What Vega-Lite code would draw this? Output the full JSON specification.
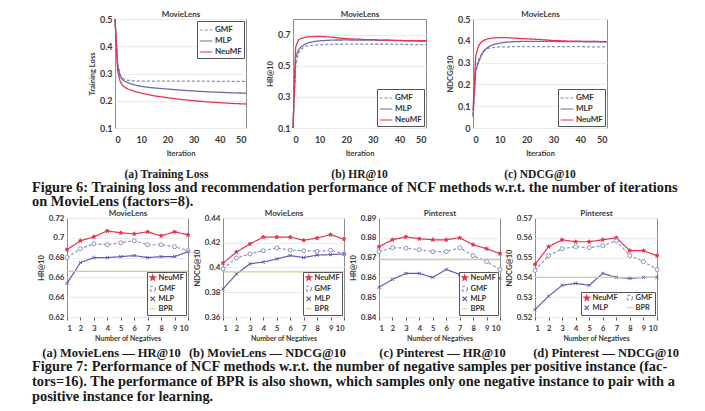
{
"$schema": "https://vega.github.io/schema/vega-lite/v6.json",
"background": "white",
"padding": {"left": 32, "top": 9, "right": 0, "bottom": 0},
"spacing": -2,
"resolve": {"scale": {"color": "independent", "shape": "independent", "strokeDash": "independent", "fill": "independent"}},
"datasets": {
"loss": [
{"it":0,"m":"GMF","v":0.5},{"it":1,"m":"GMF","v":0.34},{"it":2,"m":"GMF","v":0.295},{"it":3,"m":"GMF","v":0.282},{"it":4,"m":"GMF","v":0.277},{"it":5,"m":"GMF","v":0.275},{"it":6,"m":"GMF","v":0.274},{"it":8,"m":"GMF","v":0.273},{"it":10,"m":"GMF","v":0.272},{"it":15,"m":"GMF","v":0.272},{"it":20,"m":"GMF","v":0.272},{"it":25,"m":"GMF","v":0.272},{"it":30,"m":"GMF","v":0.272},{"it":35,"m":"GMF","v":0.272},{"it":40,"m":"GMF","v":0.271},{"it":45,"m":"GMF","v":0.271},{"it":50,"m":"GMF","v":0.271},
{"it":0,"m":"MLP","v":0.5},{"it":1,"m":"MLP","v":0.33},{"it":2,"m":"MLP","v":0.29},{"it":3,"m":"MLP","v":0.276},{"it":4,"m":"MLP","v":0.27},{"it":5,"m":"MLP","v":0.266},{"it":6,"m":"MLP","v":0.262},{"it":8,"m":"MLP","v":0.257},{"it":10,"m":"MLP","v":0.253},{"it":12,"m":"MLP","v":0.25},{"it":15,"m":"MLP","v":0.247},{"it":20,"m":"MLP","v":0.243},{"it":25,"m":"MLP","v":0.239},{"it":30,"m":"MLP","v":0.236},{"it":35,"m":"MLP","v":0.233},{"it":40,"m":"MLP","v":0.231},{"it":45,"m":"MLP","v":0.229},{"it":50,"m":"MLP","v":0.228},
{"it":0,"m":"NeuMF","v":0.5},{"it":1,"m":"NeuMF","v":0.31},{"it":2,"m":"NeuMF","v":0.27},{"it":3,"m":"NeuMF","v":0.255},{"it":4,"m":"NeuMF","v":0.248},{"it":5,"m":"NeuMF","v":0.243},{"it":6,"m":"NeuMF","v":0.239},{"it":8,"m":"NeuMF","v":0.233},{"it":10,"m":"NeuMF","v":0.228},{"it":12,"m":"NeuMF","v":0.224},{"it":15,"m":"NeuMF","v":0.218},{"it":20,"m":"NeuMF","v":0.211},{"it":25,"m":"NeuMF","v":0.205},{"it":30,"m":"NeuMF","v":0.2},{"it":35,"m":"NeuMF","v":0.196},{"it":40,"m":"NeuMF","v":0.193},{"it":45,"m":"NeuMF","v":0.19},{"it":50,"m":"NeuMF","v":0.188}
],
"hr": [
{"it":0,"m":"GMF","v":0.1},{"it":1,"m":"GMF","v":0.5},{"it":2,"m":"GMF","v":0.58},{"it":3,"m":"GMF","v":0.605},{"it":4,"m":"GMF","v":0.618},{"it":5,"m":"GMF","v":0.625},{"it":6,"m":"GMF","v":0.628},{"it":7,"m":"GMF","v":0.63},{"it":8,"m":"GMF","v":0.632},{"it":10,"m":"GMF","v":0.634},{"it":12,"m":"GMF","v":0.636},{"it":14,"m":"GMF","v":0.637},{"it":16,"m":"GMF","v":0.638},{"it":18,"m":"GMF","v":0.638},{"it":20,"m":"GMF","v":0.639},{"it":25,"m":"GMF","v":0.639},{"it":30,"m":"GMF","v":0.638},{"it":35,"m":"GMF","v":0.638},{"it":40,"m":"GMF","v":0.637},{"it":45,"m":"GMF","v":0.636},{"it":50,"m":"GMF","v":0.635},
{"it":0,"m":"MLP","v":0.1},{"it":1,"m":"MLP","v":0.55},{"it":2,"m":"MLP","v":0.6},{"it":3,"m":"MLP","v":0.62},{"it":4,"m":"MLP","v":0.633},{"it":5,"m":"MLP","v":0.642},{"it":6,"m":"MLP","v":0.648},{"it":7,"m":"MLP","v":0.652},{"it":8,"m":"MLP","v":0.656},{"it":10,"m":"MLP","v":0.66},{"it":12,"m":"MLP","v":0.662},{"it":14,"m":"MLP","v":0.664},{"it":16,"m":"MLP","v":0.665},{"it":18,"m":"MLP","v":0.665},{"it":20,"m":"MLP","v":0.666},{"it":22,"m":"MLP","v":0.665},{"it":25,"m":"MLP","v":0.664},{"it":28,"m":"MLP","v":0.665},{"it":30,"m":"MLP","v":0.664},{"it":33,"m":"MLP","v":0.663},{"it":35,"m":"MLP","v":0.664},{"it":38,"m":"MLP","v":0.662},{"it":40,"m":"MLP","v":0.661},{"it":43,"m":"MLP","v":0.66},{"it":45,"m":"MLP","v":0.66},{"it":48,"m":"MLP","v":0.658},{"it":50,"m":"MLP","v":0.657},
{"it":0,"m":"NeuMF","v":0.1},{"it":1,"m":"NeuMF","v":0.62},{"it":2,"m":"NeuMF","v":0.665},{"it":3,"m":"NeuMF","v":0.675},{"it":4,"m":"NeuMF","v":0.68},{"it":5,"m":"NeuMF","v":0.684},{"it":6,"m":"NeuMF","v":0.686},{"it":7,"m":"NeuMF","v":0.685},{"it":8,"m":"NeuMF","v":0.687},{"it":10,"m":"NeuMF","v":0.688},{"it":12,"m":"NeuMF","v":0.686},{"it":14,"m":"NeuMF","v":0.684},{"it":16,"m":"NeuMF","v":0.68},{"it":18,"m":"NeuMF","v":0.677},{"it":20,"m":"NeuMF","v":0.674},{"it":22,"m":"NeuMF","v":0.672},{"it":25,"m":"NeuMF","v":0.67},{"it":28,"m":"NeuMF","v":0.667},{"it":30,"m":"NeuMF","v":0.668},{"it":33,"m":"NeuMF","v":0.664},{"it":35,"m":"NeuMF","v":0.665},{"it":38,"m":"NeuMF","v":0.662},{"it":40,"m":"NeuMF","v":0.663},{"it":43,"m":"NeuMF","v":0.66},{"it":45,"m":"NeuMF","v":0.662},{"it":48,"m":"NeuMF","v":0.66},{"it":50,"m":"NeuMF","v":0.661}
],
"ndcg": [
{"it":0,"m":"GMF","v":0.06},{"it":1,"m":"GMF","v":0.27},{"it":2,"m":"GMF","v":0.31},{"it":3,"m":"GMF","v":0.335},{"it":4,"m":"GMF","v":0.352},{"it":5,"m":"GMF","v":0.362},{"it":6,"m":"GMF","v":0.367},{"it":7,"m":"GMF","v":0.369},{"it":8,"m":"GMF","v":0.37},{"it":10,"m":"GMF","v":0.372},{"it":15,"m":"GMF","v":0.373},{"it":20,"m":"GMF","v":0.373},{"it":25,"m":"GMF","v":0.373},{"it":30,"m":"GMF","v":0.373},{"it":35,"m":"GMF","v":0.373},{"it":40,"m":"GMF","v":0.373},{"it":45,"m":"GMF","v":0.372},{"it":50,"m":"GMF","v":0.372},
{"it":0,"m":"MLP","v":0.05},{"it":1,"m":"MLP","v":0.26},{"it":2,"m":"MLP","v":0.3},{"it":3,"m":"MLP","v":0.33},{"it":4,"m":"MLP","v":0.352},{"it":5,"m":"MLP","v":0.365},{"it":6,"m":"MLP","v":0.374},{"it":7,"m":"MLP","v":0.38},{"it":8,"m":"MLP","v":0.384},{"it":10,"m":"MLP","v":0.389},{"it":12,"m":"MLP","v":0.393},{"it":14,"m":"MLP","v":0.395},{"it":16,"m":"MLP","v":0.396},{"it":18,"m":"MLP","v":0.397},{"it":20,"m":"MLP","v":0.397},{"it":25,"m":"MLP","v":0.397},{"it":30,"m":"MLP","v":0.397},{"it":35,"m":"MLP","v":0.396},{"it":40,"m":"MLP","v":0.396},{"it":45,"m":"MLP","v":0.395},{"it":50,"m":"MLP","v":0.395},
{"it":0,"m":"NeuMF","v":0.08},{"it":1,"m":"NeuMF","v":0.33},{"it":2,"m":"NeuMF","v":0.375},{"it":3,"m":"NeuMF","v":0.393},{"it":4,"m":"NeuMF","v":0.402},{"it":5,"m":"NeuMF","v":0.407},{"it":6,"m":"NeuMF","v":0.41},{"it":7,"m":"NeuMF","v":0.412},{"it":8,"m":"NeuMF","v":0.413},{"it":10,"m":"NeuMF","v":0.415},{"it":12,"m":"NeuMF","v":0.415},{"it":14,"m":"NeuMF","v":0.413},{"it":16,"m":"NeuMF","v":0.412},{"it":18,"m":"NeuMF","v":0.41},{"it":20,"m":"NeuMF","v":0.409},{"it":22,"m":"NeuMF","v":0.408},{"it":25,"m":"NeuMF","v":0.406},{"it":28,"m":"NeuMF","v":0.403},{"it":30,"m":"NeuMF","v":0.401},{"it":33,"m":"NeuMF","v":0.4},{"it":35,"m":"NeuMF","v":0.399},{"it":38,"m":"NeuMF","v":0.398},{"it":40,"m":"NeuMF","v":0.398},{"it":43,"m":"NeuMF","v":0.397},{"it":45,"m":"NeuMF","v":0.398},{"it":48,"m":"NeuMF","v":0.396},{"it":50,"m":"NeuMF","v":0.396}
],
"hr_ml": [
{"n":1,"m":"NeuMF","v":0.688},{"n":2,"m":"NeuMF","v":0.697},{"n":3,"m":"NeuMF","v":0.701},{"n":4,"m":"NeuMF","v":0.707},{"n":5,"m":"NeuMF","v":0.705},{"n":6,"m":"NeuMF","v":0.704},{"n":7,"m":"NeuMF","v":0.706},{"n":8,"m":"NeuMF","v":0.702},{"n":9,"m":"NeuMF","v":0.706},{"n":10,"m":"NeuMF","v":0.703},
{"n":1,"m":"GMF","v":0.68},{"n":2,"m":"GMF","v":0.689},{"n":3,"m":"GMF","v":0.694},{"n":4,"m":"GMF","v":0.693},{"n":5,"m":"GMF","v":0.695},{"n":6,"m":"GMF","v":0.697},{"n":7,"m":"GMF","v":0.693},{"n":8,"m":"GMF","v":0.693},{"n":9,"m":"GMF","v":0.691},{"n":10,"m":"GMF","v":0.687},
{"n":1,"m":"MLP","v":0.654},{"n":2,"m":"MLP","v":0.675},{"n":3,"m":"MLP","v":0.68},{"n":4,"m":"MLP","v":0.68},{"n":5,"m":"MLP","v":0.681},{"n":6,"m":"MLP","v":0.682},{"n":7,"m":"MLP","v":0.68},{"n":8,"m":"MLP","v":0.681},{"n":9,"m":"MLP","v":0.681},{"n":10,"m":"MLP","v":0.686},
{"n":1,"m":"BPR","v":0.666},{"n":2,"m":"BPR","v":0.666},{"n":3,"m":"BPR","v":0.666},{"n":4,"m":"BPR","v":0.666},{"n":5,"m":"BPR","v":0.666},{"n":6,"m":"BPR","v":0.666},{"n":7,"m":"BPR","v":0.666},{"n":8,"m":"BPR","v":0.666},{"n":9,"m":"BPR","v":0.666},{"n":10,"m":"BPR","v":0.666}
],
"ndcg_ml": [
{"n":1,"m":"NeuMF","v":0.4036},{"n":2,"m":"NeuMF","v":0.4125},{"n":3,"m":"NeuMF","v":0.419},{"n":4,"m":"NeuMF","v":0.4246},{"n":5,"m":"NeuMF","v":0.4246},{"n":6,"m":"NeuMF","v":0.4246},{"n":7,"m":"NeuMF","v":0.422},{"n":8,"m":"NeuMF","v":0.4238},{"n":9,"m":"NeuMF","v":0.4265},{"n":10,"m":"NeuMF","v":0.423},
{"n":1,"m":"GMF","v":0.3988},{"n":2,"m":"GMF","v":0.4077},{"n":3,"m":"GMF","v":0.411},{"n":4,"m":"GMF","v":0.4136},{"n":5,"m":"GMF","v":0.4158},{"n":6,"m":"GMF","v":0.414},{"n":7,"m":"GMF","v":0.4136},{"n":8,"m":"GMF","v":0.413},{"n":9,"m":"GMF","v":0.414},{"n":10,"m":"GMF","v":0.411},
{"n":1,"m":"MLP","v":0.3826},{"n":2,"m":"MLP","v":0.3947},{"n":3,"m":"MLP","v":0.403},{"n":4,"m":"MLP","v":0.4044},{"n":5,"m":"MLP","v":0.4069},{"n":6,"m":"MLP","v":0.4096},{"n":7,"m":"MLP","v":0.408},{"n":8,"m":"MLP","v":0.41},{"n":9,"m":"MLP","v":0.4104},{"n":10,"m":"MLP","v":0.411},
{"n":1,"m":"BPR","v":0.3964},{"n":2,"m":"BPR","v":0.3964},{"n":3,"m":"BPR","v":0.3964},{"n":4,"m":"BPR","v":0.3964},{"n":5,"m":"BPR","v":0.3964},{"n":6,"m":"BPR","v":0.3964},{"n":7,"m":"BPR","v":0.3964},{"n":8,"m":"BPR","v":0.3964},{"n":9,"m":"BPR","v":0.3964},{"n":10,"m":"BPR","v":0.3964}
],
"hr_pin": [
{"n":1,"m":"NeuMF","v":0.8755},{"n":2,"m":"NeuMF","v":0.879},{"n":3,"m":"NeuMF","v":0.8805},{"n":4,"m":"NeuMF","v":0.8795},{"n":5,"m":"NeuMF","v":0.879},{"n":6,"m":"NeuMF","v":0.879},{"n":7,"m":"NeuMF","v":0.88},{"n":8,"m":"NeuMF","v":0.8765},{"n":9,"m":"NeuMF","v":0.8745},{"n":10,"m":"NeuMF","v":0.872},
{"n":1,"m":"GMF","v":0.873},{"n":2,"m":"GMF","v":0.875},{"n":3,"m":"GMF","v":0.8748},{"n":4,"m":"GMF","v":0.874},{"n":5,"m":"GMF","v":0.873},{"n":6,"m":"GMF","v":0.873},{"n":7,"m":"GMF","v":0.875},{"n":8,"m":"GMF","v":0.871},{"n":9,"m":"GMF","v":0.868},{"n":10,"m":"GMF","v":0.864},
{"n":1,"m":"MLP","v":0.855},{"n":2,"m":"MLP","v":0.859},{"n":3,"m":"MLP","v":0.862},{"n":4,"m":"MLP","v":0.862},{"n":5,"m":"MLP","v":0.86},{"n":6,"m":"MLP","v":0.864},{"n":7,"m":"MLP","v":0.8615},{"n":8,"m":"MLP","v":0.862},{"n":9,"m":"MLP","v":0.862},{"n":10,"m":"MLP","v":0.8595},
{"n":1,"m":"BPR","v":0.869},{"n":2,"m":"BPR","v":0.869},{"n":3,"m":"BPR","v":0.869},{"n":4,"m":"BPR","v":0.869},{"n":5,"m":"BPR","v":0.869},{"n":6,"m":"BPR","v":0.869},{"n":7,"m":"BPR","v":0.869},{"n":8,"m":"BPR","v":0.869},{"n":9,"m":"BPR","v":0.869},{"n":10,"m":"BPR","v":0.869}
],
"ndcg_pin": [
{"n":1,"m":"NeuMF","v":0.5465},{"n":2,"m":"NeuMF","v":0.5555},{"n":3,"m":"NeuMF","v":0.559},{"n":4,"m":"NeuMF","v":0.558},{"n":5,"m":"NeuMF","v":0.558},{"n":6,"m":"NeuMF","v":0.559},{"n":7,"m":"NeuMF","v":0.56},{"n":8,"m":"NeuMF","v":0.5535},{"n":9,"m":"NeuMF","v":0.5535},{"n":10,"m":"NeuMF","v":0.551},
{"n":1,"m":"GMF","v":0.5435},{"n":2,"m":"GMF","v":0.551},{"n":3,"m":"GMF","v":0.5545},{"n":4,"m":"GMF","v":0.5555},{"n":5,"m":"GMF","v":0.555},{"n":6,"m":"GMF","v":0.556},{"n":7,"m":"GMF","v":0.5585},{"n":8,"m":"GMF","v":0.551},{"n":9,"m":"GMF","v":0.548},{"n":10,"m":"GMF","v":0.544},
{"n":1,"m":"MLP","v":0.5237},{"n":2,"m":"MLP","v":0.5305},{"n":3,"m":"MLP","v":0.536},{"n":4,"m":"MLP","v":0.537},{"n":5,"m":"MLP","v":0.536},{"n":6,"m":"MLP","v":0.542},{"n":7,"m":"MLP","v":0.54},{"n":8,"m":"MLP","v":0.5395},{"n":9,"m":"MLP","v":0.54},{"n":10,"m":"MLP","v":0.54},
{"n":1,"m":"BPR","v":0.54},{"n":2,"m":"BPR","v":0.54},{"n":3,"m":"BPR","v":0.54},{"n":4,"m":"BPR","v":0.54},{"n":5,"m":"BPR","v":0.54},{"n":6,"m":"BPR","v":0.54},{"n":7,"m":"BPR","v":0.54},{"n":8,"m":"BPR","v":0.54},{"n":9,"m":"BPR","v":0.54},{"n":10,"m":"BPR","v":0.54}
]
},
"vconcat": [
{"concat": [
{"width": 1, "height": 1, "data": {"values": []}, "mark": {"type": "text"}, "view": {"stroke": null}},
{"width": 131, "height": 109, "data": {"name": "loss"},
 "title": {"text": "(a) Training Loss", "orient": "bottom", "fontSize": 11.5, "offset": 12, "dx": -14},
 "encoding": {"y": {"field": "v", "type": "quantitative", "scale": {"domain": [0.1, 0.5]}, "axis": {"values": [0.1, 0.2, 0.3, 0.4, 0.5], "format": "~g", "title": "Training Loss", "labelFontSize": 9}}},
 "layer": [
  {"mark": {"type": "line", "strokeWidth": 1.3},
   "encoding": {
    "x": {"field": "it", "type": "quantitative", "scale": {"domain": [0, 50]}, "axis": {"orient": "bottom", "values": [0, 10, 20, 30, 40, 50], "title": "Iteration", "labelFontSize": 9, "labelPadding": 7, "titlePadding": 5}},
    "color": {"field": "m", "type": "nominal", "scale": {"domain": ["GMF", "MLP", "NeuMF"], "range": ["#8592b8", "#6a6aae", "#e8334f"]}, "legend": {"title": null, "orient": "top-right", "symbolType": "stroke", "symbolSize": 160, "labelFontSize": 8}},
    "strokeDash": {"field": "m", "type": "nominal", "scale": {"domain": ["GMF", "MLP", "NeuMF"], "range": [[3, 2], [1, 0], [1, 0]]}, "legend": {"title": null, "orient": "top-right", "symbolType": "stroke", "symbolSize": 160, "labelFontSize": 8}}
   }},
  {"mark": {"type": "point", "opacity": 0},
   "encoding": {"x": {"field": "it", "type": "quantitative", "axis": {"orient": "top", "title": "MovieLens", "labels": false, "ticks": false, "domain": false, "minExtent": 0, "maxExtent": 0, "offset": 0, "titleFontSize": 8, "titlePadding": 1}}}}
 ],
 "resolve": {"axis": {"x": "independent"}}
},
{"width": 133, "height": 109, "data": {"name": "hr"},
 "title": {"text": "(b) HR@10", "orient": "bottom", "fontSize": 11.5, "offset": 12},
 "encoding": {"y": {"field": "v", "type": "quantitative", "scale": {"domain": [0.1, 0.8]}, "axis": {"values": [0.1, 0.3, 0.5, 0.7], "format": "~g", "title": "HR@10", "labelFontSize": 9}}},
 "layer": [
  {"mark": {"type": "line", "strokeWidth": 1.3},
   "encoding": {
    "x": {"field": "it", "type": "quantitative", "scale": {"domain": [0, 50]}, "axis": {"orient": "bottom", "values": [0, 10, 20, 30, 40, 50], "title": "Iteration", "labelFontSize": 9, "labelPadding": 7, "titlePadding": 5}},
    "color": {"field": "m", "type": "nominal", "scale": {"domain": ["GMF", "MLP", "NeuMF"], "range": ["#8592b8", "#6a6aae", "#e8334f"]}, "legend": {"title": null, "orient": "bottom-right", "symbolType": "stroke", "symbolSize": 160, "labelFontSize": 8}},
    "strokeDash": {"field": "m", "type": "nominal", "scale": {"domain": ["GMF", "MLP", "NeuMF"], "range": [[3, 2], [1, 0], [1, 0]]}, "legend": {"title": null, "orient": "bottom-right", "symbolType": "stroke", "symbolSize": 160, "labelFontSize": 8}}
   }},
  {"mark": {"type": "point", "opacity": 0},
   "encoding": {"x": {"field": "it", "type": "quantitative", "axis": {"orient": "top", "title": "MovieLens", "labels": false, "ticks": false, "domain": false, "minExtent": 0, "maxExtent": 0, "offset": 0, "titleFontSize": 8, "titlePadding": 1}}}}
 ],
 "resolve": {"axis": {"x": "independent"}}
},
{"width": 134, "height": 109, "data": {"name": "ndcg"},
 "title": {"text": "(c) NDCG@10", "orient": "bottom", "fontSize": 11.5, "offset": 12},
 "encoding": {"y": {"field": "v", "type": "quantitative", "scale": {"domain": [0, 0.5]}, "axis": {"values": [0, 0.1, 0.2, 0.3, 0.4, 0.5], "format": "~g", "title": "NDCG@10", "labelFontSize": 9}}},
 "layer": [
  {"mark": {"type": "line", "strokeWidth": 1.3},
   "encoding": {
    "x": {"field": "it", "type": "quantitative", "scale": {"domain": [0, 50]}, "axis": {"orient": "bottom", "values": [0, 10, 20, 30, 40, 50], "title": "Iteration", "labelFontSize": 9, "labelPadding": 7, "titlePadding": 5}},
    "color": {"field": "m", "type": "nominal", "scale": {"domain": ["GMF", "MLP", "NeuMF"], "range": ["#8592b8", "#6a6aae", "#e8334f"]}, "legend": {"title": null, "orient": "bottom-right", "symbolType": "stroke", "symbolSize": 160, "labelFontSize": 8}},
    "strokeDash": {"field": "m", "type": "nominal", "scale": {"domain": ["GMF", "MLP", "NeuMF"], "range": [[3, 2], [1, 0], [1, 0]]}, "legend": {"title": null, "orient": "bottom-right", "symbolType": "stroke", "symbolSize": 160, "labelFontSize": 8}}
   }},
  {"mark": {"type": "point", "opacity": 0},
   "encoding": {"x": {"field": "it", "type": "quantitative", "axis": {"orient": "top", "title": "MovieLens", "labels": false, "ticks": false, "domain": false, "minExtent": 0, "maxExtent": 0, "offset": 0, "titleFontSize": 8, "titlePadding": 1}}}}
 ],
 "resolve": {"axis": {"x": "independent"}}
}
], "align": "none", "bounds": "flush", "spacing": 47,
"resolve": {"scale": {"color": "independent", "shape": "independent", "strokeDash": "independent", "fill": "independent"}}},
{"width": 655, "height": 1, "data": {"values": []}, "mark": {"type": "text"}, "view": {"stroke": null},
 "title": {"text": ["Figure 6: Training loss and recommendation performance of NCF methods w.r.t. the number of iterations", "on MovieLens (factors=8)."], "anchor": "start", "frame": "group", "dx": -35, "fontSize": 14.4, "lineHeight": 14, "offset": 0}},
{"concat": [
{"width": 121, "height": 99, "data": {"name": "hr_ml"},
 "title": {"text": "(a) MovieLens — HR@10", "orient": "bottom", "fontSize": 12.5, "offset": 5, "dx": -16},
 "encoding": {"y": {"field": "v", "type": "quantitative", "scale": {"domain": [0.62, 0.72]}, "axis": {"values": [0.62, 0.64, 0.66, 0.68, 0.7, 0.72], "format": "~g", "title": "HR@10", "labelFontSize": 8}}},
 "layer": [
  {"mark": {"type": "line", "strokeWidth": 1.2},
   "encoding": {
    "x": {"field": "n", "type": "quantitative", "scale": {"domain": [1, 10]}, "axis": {"orient": "bottom", "values": [1,2,3,4,5,6,7,8,9,10], "title": "Number of Negatives", "ticks": true, "tickSize": 3, "tickColor": "#555", "labelFontSize": 7.5, "labelPadding": 4, "titleFontSize": 7, "titlePadding": 3}},
    "color": {"field": "m", "type": "nominal", "scale": {"domain": ["NeuMF", "GMF", "MLP", "BPR"], "range": ["#e8334f", "#8894c4", "#6a5aaa", "#d2cc8a"]}, "legend": {"title": null, "orient": "bottom-right", "symbolSize": 30, "labelFontSize": 7.5, "encode": {"symbols": {"update": {"fill": {"signal": "datum.value === 'NeuMF' ? '#e8334f' : 'transparent'"}}}}}},
    "strokeDash": {"field": "m", "type": "nominal", "scale": {"domain": ["NeuMF", "GMF", "MLP", "BPR"], "range": [[1, 0], [3, 2], [1, 0], [1, 0]]}, "legend": null}
   }},
  {"transform": [{"filter": "datum.m !== 'BPR'"}],
   "mark": {"type": "point", "filled": false, "strokeWidth": 1, "size": 16, "opacity": 1},
   "encoding": {
    "x": {"field": "n", "type": "quantitative", "axis": {"orient": "top", "title": "MovieLens", "labels": false, "ticks": false, "domain": false, "minExtent": 0, "maxExtent": 0, "offset": 0, "titleFontSize": 8, "titlePadding": 1}},
    "color": {"field": "m", "type": "nominal", "scale": {"domain": ["NeuMF", "GMF", "MLP", "BPR"], "range": ["#e8334f", "#8894c4", "#6a5aaa", "#d2cc8a"]}, "legend": {"title": null, "orient": "bottom-right", "symbolSize": 30, "labelFontSize": 7.5}},
    "shape": {"field": "m", "type": "nominal", "scale": {"domain": ["NeuMF", "GMF", "MLP", "BPR"], "range": ["M0,-1L0.24,-0.33L0.95,-0.31L0.38,0.12L0.59,0.81L0,0.4L-0.59,0.81L-0.38,0.12L-0.95,-0.31L-0.24,-0.33Z", "circle", "M-0.8,-0.8L0.8,0.8M-0.8,0.8L0.8,-0.8", "stroke"]}, "legend": {"title": null, "orient": "bottom-right", "symbolSize": 30, "labelFontSize": 7.5}},
    "fill": {"field": "m", "type": "nominal", "scale": {"domain": ["NeuMF", "GMF", "MLP"], "range": ["#e8334f", "#ffffff", "transparent"]}, "legend": null}
   }}
 ],
 "resolve": {"axis": {"x": "independent"}}
},
{"width": 121, "height": 99, "data": {"name": "ndcg_ml"},
 "title": {"text": "(b) MovieLens — NDCG@10", "orient": "bottom", "fontSize": 12.5, "offset": 5, "dx": -16},
 "encoding": {"y": {"field": "v", "type": "quantitative", "scale": {"domain": [0.36, 0.44]}, "axis": {"values": [0.36, 0.38, 0.4, 0.42, 0.44], "format": "~g", "title": "NDCG@10", "labelFontSize": 8}}},
 "layer": [
  {"mark": {"type": "line", "strokeWidth": 1.2},
   "encoding": {
    "x": {"field": "n", "type": "quantitative", "scale": {"domain": [1, 10]}, "axis": {"orient": "bottom", "values": [1,2,3,4,5,6,7,8,9,10], "title": "Number of Negatives", "ticks": true, "tickSize": 3, "tickColor": "#555", "labelFontSize": 7.5, "labelPadding": 4, "titleFontSize": 7, "titlePadding": 3}},
    "color": {"field": "m", "type": "nominal", "scale": {"domain": ["NeuMF", "GMF", "MLP", "BPR"], "range": ["#e8334f", "#8894c4", "#6a5aaa", "#d2cc8a"]}, "legend": {"title": null, "orient": "bottom-right", "symbolSize": 30, "labelFontSize": 7.5, "encode": {"symbols": {"update": {"fill": {"signal": "datum.value === 'NeuMF' ? '#e8334f' : 'transparent'"}}}}}},
    "strokeDash": {"field": "m", "type": "nominal", "scale": {"domain": ["NeuMF", "GMF", "MLP", "BPR"], "range": [[1, 0], [3, 2], [1, 0], [1, 0]]}, "legend": null}
   }},
  {"transform": [{"filter": "datum.m !== 'BPR'"}],
   "mark": {"type": "point", "filled": false, "strokeWidth": 1, "size": 16, "opacity": 1},
   "encoding": {
    "x": {"field": "n", "type": "quantitative", "axis": {"orient": "top", "title": "MovieLens", "labels": false, "ticks": false, "domain": false, "minExtent": 0, "maxExtent": 0, "offset": 0, "titleFontSize": 8, "titlePadding": 1}},
    "color": {"field": "m", "type": "nominal", "scale": {"domain": ["NeuMF", "GMF", "MLP", "BPR"], "range": ["#e8334f", "#8894c4", "#6a5aaa", "#d2cc8a"]}, "legend": {"title": null, "orient": "bottom-right", "symbolSize": 30, "labelFontSize": 7.5}},
    "shape": {"field": "m", "type": "nominal", "scale": {"domain": ["NeuMF", "GMF", "MLP", "BPR"], "range": ["M0,-1L0.24,-0.33L0.95,-0.31L0.38,0.12L0.59,0.81L0,0.4L-0.59,0.81L-0.38,0.12L-0.95,-0.31L-0.24,-0.33Z", "circle", "M-0.8,-0.8L0.8,0.8M-0.8,0.8L0.8,-0.8", "stroke"]}, "legend": {"title": null, "orient": "bottom-right", "symbolSize": 30, "labelFontSize": 7.5}},
    "fill": {"field": "m", "type": "nominal", "scale": {"domain": ["NeuMF", "GMF", "MLP"], "range": ["#e8334f", "#ffffff", "transparent"]}, "legend": null}
   }}
 ],
 "resolve": {"axis": {"x": "independent"}}
},
{"width": 121, "height": 99, "data": {"name": "hr_pin"},
 "title": {"text": "(c) Pinterest — HR@10", "orient": "bottom", "fontSize": 12.5, "offset": 5, "dx": 3},
 "encoding": {"y": {"field": "v", "type": "quantitative", "scale": {"domain": [0.84, 0.89]}, "axis": {"values": [0.84, 0.85, 0.86, 0.87, 0.88, 0.89], "format": "~g", "title": "HR@10", "labelFontSize": 8}}},
 "layer": [
  {"mark": {"type": "line", "strokeWidth": 1.2},
   "encoding": {
    "x": {"field": "n", "type": "quantitative", "scale": {"domain": [1, 10]}, "axis": {"orient": "bottom", "values": [1,2,3,4,5,6,7,8,9,10], "title": "Number of Negatives", "ticks": true, "tickSize": 3, "tickColor": "#555", "labelFontSize": 7.5, "labelPadding": 4, "titleFontSize": 7, "titlePadding": 3}},
    "color": {"field": "m", "type": "nominal", "scale": {"domain": ["NeuMF", "GMF", "MLP", "BPR"], "range": ["#e8334f", "#8894c4", "#6a5aaa", "#d2cc8a"]}, "legend": {"title": null, "orient": "bottom-right", "symbolSize": 30, "labelFontSize": 7.5, "encode": {"symbols": {"update": {"fill": {"signal": "datum.value === 'NeuMF' ? '#e8334f' : 'transparent'"}}}}}},
    "strokeDash": {"field": "m", "type": "nominal", "scale": {"domain": ["NeuMF", "GMF", "MLP", "BPR"], "range": [[1, 0], [3, 2], [1, 0], [1, 0]]}, "legend": null}
   }},
  {"transform": [{"filter": "datum.m !== 'BPR'"}],
   "mark": {"type": "point", "filled": false, "strokeWidth": 1, "size": 16, "opacity": 1},
   "encoding": {
    "x": {"field": "n", "type": "quantitative", "axis": {"orient": "top", "title": "Pinterest", "labels": false, "ticks": false, "domain": false, "minExtent": 0, "maxExtent": 0, "offset": 0, "titleFontSize": 8, "titlePadding": 1}},
    "color": {"field": "m", "type": "nominal", "scale": {"domain": ["NeuMF", "GMF", "MLP", "BPR"], "range": ["#e8334f", "#8894c4", "#6a5aaa", "#d2cc8a"]}, "legend": {"title": null, "orient": "bottom-right", "symbolSize": 30, "labelFontSize": 7.5}},
    "shape": {"field": "m", "type": "nominal", "scale": {"domain": ["NeuMF", "GMF", "MLP", "BPR"], "range": ["M0,-1L0.24,-0.33L0.95,-0.31L0.38,0.12L0.59,0.81L0,0.4L-0.59,0.81L-0.38,0.12L-0.95,-0.31L-0.24,-0.33Z", "circle", "M-0.8,-0.8L0.8,0.8M-0.8,0.8L0.8,-0.8", "stroke"]}, "legend": {"title": null, "orient": "bottom-right", "symbolSize": 30, "labelFontSize": 7.5}},
    "fill": {"field": "m", "type": "nominal", "scale": {"domain": ["NeuMF", "GMF", "MLP"], "range": ["#e8334f", "#ffffff", "transparent"]}, "legend": null}
   }}
 ],
 "resolve": {"axis": {"x": "independent"}}
},
{"width": 122, "height": 99, "data": {"name": "ndcg_pin"},
 "title": {"text": "(d) Pinterest — NDCG@10", "orient": "bottom", "fontSize": 12.5, "offset": 5, "dx": 10},
 "encoding": {"y": {"field": "v", "type": "quantitative", "scale": {"domain": [0.52, 0.57]}, "axis": {"values": [0.52, 0.53, 0.54, 0.55, 0.56, 0.57], "format": "~g", "title": "NDCG@10", "labelFontSize": 8}}},
 "layer": [
  {"mark": {"type": "line", "strokeWidth": 1.2},
   "encoding": {
    "x": {"field": "n", "type": "quantitative", "scale": {"domain": [1, 10]}, "axis": {"orient": "bottom", "values": [1,2,3,4,5,6,7,8,9,10], "title": "Number of Negatives", "ticks": true, "tickSize": 3, "tickColor": "#555", "labelFontSize": 7.5, "labelPadding": 4, "titleFontSize": 7, "titlePadding": 3}},
    "color": {"field": "m", "type": "nominal", "scale": {"domain": ["NeuMF", "MLP", "GMF", "BPR"], "range": ["#e8334f", "#6a5aaa", "#8894c4", "#d2cc8a"]}, "legend": {"title": null, "orient": "bottom-right", "columns": 2, "columnPadding": 6, "symbolSize": 30, "labelFontSize": 7.5, "encode": {"symbols": {"update": {"fill": {"signal": "datum.value === 'NeuMF' ? '#e8334f' : 'transparent'"}}}}}},
    "strokeDash": {"field": "m", "type": "nominal", "scale": {"domain": ["NeuMF", "MLP", "GMF", "BPR"], "range": [[1, 0], [1, 0], [3, 2], [1, 0]]}, "legend": null}
   }},
  {"transform": [{"filter": "datum.m !== 'BPR'"}],
   "mark": {"type": "point", "filled": false, "strokeWidth": 1, "size": 16, "opacity": 1},
   "encoding": {
    "x": {"field": "n", "type": "quantitative", "axis": {"orient": "top", "title": "Pinterest", "labels": false, "ticks": false, "domain": false, "minExtent": 0, "maxExtent": 0, "offset": 0, "titleFontSize": 8, "titlePadding": 1}},
    "color": {"field": "m", "type": "nominal", "scale": {"domain": ["NeuMF", "MLP", "GMF", "BPR"], "range": ["#e8334f", "#6a5aaa", "#8894c4", "#d2cc8a"]}, "legend": {"title": null, "orient": "bottom-right", "columns": 2, "columnPadding": 6, "symbolSize": 30, "labelFontSize": 7.5}},
    "shape": {"field": "m", "type": "nominal", "scale": {"domain": ["NeuMF", "MLP", "GMF", "BPR"], "range": ["M0,-1L0.24,-0.33L0.95,-0.31L0.38,0.12L0.59,0.81L0,0.4L-0.59,0.81L-0.38,0.12L-0.95,-0.31L-0.24,-0.33Z", "M-0.8,-0.8L0.8,0.8M-0.8,0.8L0.8,-0.8", "circle", "stroke"]}, "legend": {"title": null, "orient": "bottom-right", "columns": 2, "columnPadding": 6, "symbolSize": 30, "labelFontSize": 7.5}},
    "fill": {"field": "m", "type": "nominal", "scale": {"domain": ["NeuMF", "GMF", "MLP"], "range": ["#e8334f", "#ffffff", "transparent"]}, "legend": null}
   }}
 ],
 "resolve": {"axis": {"x": "independent"}}
}
], "align": "none", "bounds": "flush", "spacing": 35,
"resolve": {"scale": {"color": "independent", "shape": "independent", "strokeDash": "independent", "fill": "independent"}}},
{"width": 655, "height": 1, "data": {"values": []}, "mark": {"type": "text"}, "view": {"stroke": null},
 "title": {"text": ["Figure 7: Performance of NCF methods w.r.t. the number of negative samples per positive instance (fac-", "tors=16). The performance of BPR is also shown, which samples only one negative instance to pair with a", "positive instance for learning."], "anchor": "start", "frame": "group", "dx": -35, "fontSize": 14.4, "lineHeight": 15, "offset": 0}}
],
"config": {
 "view": {"stroke": "#8c8c8c", "strokeWidth": 1},
 "axis": {"labelFont": "Lato", "labelFontWeight": "bold", "labelColor": "#3a3a3a", "titleFont": "Lato", "titleFontWeight": "bold", "titleColor": "#3a3a3a", "titleFontSize": 7.5, "domain": false, "ticks": false, "grid": false, "labelPadding": 3, "titlePadding": 3},
 "axisY": {"grid": true, "gridColor": "#ececec"},
 "legend": {"labelFont": "Lato", "labelFontWeight": "bold", "labelColor": "#333", "strokeColor": "#555", "fillColor": "#ffffff", "padding": 2, "rowPadding": 0, "offset": 2, "labelOffset": 2, "symbolStrokeWidth": 1.2},
 "title": {"font": "Liberation Serif", "fontWeight": "bold", "color": "#1a1a1a"}
}
}
